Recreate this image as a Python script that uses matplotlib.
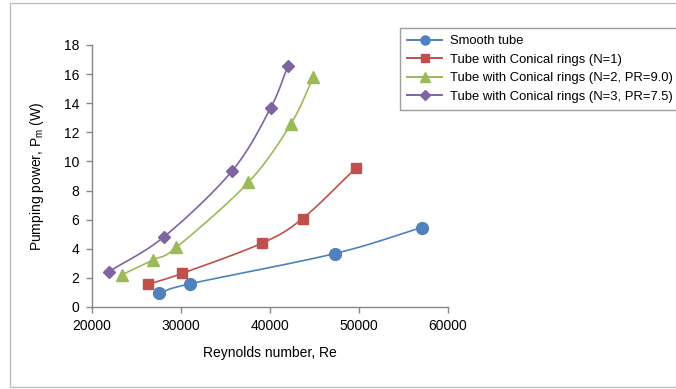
import matplotlib
matplotlib.use("Agg")
import matplotlib.pyplot as plt
import numpy as np
from matplotlib.patches import Rectangle

## the data
re_smooth = [27600, 31100, 47300, 57100]
pp_smooth = [0.95, 1.6, 3.67, 5.46]

re_n1 = [26350, 30200, 39100, 43700, 49700]
pp_n1 = [1.56, 2.32, 4.38, 6.08, 9.55]

re_n2 = [23350, 26900, 29500, 37600, 42400, 44900]
pp_n2 = [2.2, 3.24, 4.09, 8.56, 12.6, 15.8]

re_n3 = [21950, 28150, 35800, 40100, 42050]
pp_n3 = [2.43, 4.84, 9.37, 13.68, 16.55]

labels = ['Smooth tube',
          'Tube with Conical rings (N=1)',
          'Tube with Conical rings (N=2, PR=9.0)',
          'Tube with Conical rings (N=3, PR=7.5)']

x_ticks = [20000, 30000, 40000, 50000, 60000]
y_ticks = [0, 2, 4, 6, 8, 10, 12, 14, 16, 18]

## styles
colors = ['#4F81BD', '#C0504D', '#9BBB59', '#8064A2']
markers = ['o', 's', '^', 'D']
msizes = [8.5, 7.5, 8, 6.5]
leg_msizes = [6.5, 6, 6.5, 5]
grey = '#868686'

plt.rcParams['font.family'] = ['Liberation Sans', 'DejaVu Sans']


def smooth_curve(x, y, n=30):
    # Catmull-Rom style curve through the points, like Excel "smoothed line"
    x = np.asarray(x, float)
    y = np.asarray(y, float)
    px = np.concatenate([[2 * x[0] - x[1]], x, [2 * x[-1] - x[-2]]])
    py = np.concatenate([[2 * y[0] - y[1]], y, [2 * y[-1] - y[-2]]])
    xs, ys = [], []
    t = np.linspace(0, 1, n)
    for i in range(1, len(px) - 2):
        for p, out in ((px, xs), (py, ys)):
            p0, p1, p2, p3 = p[i - 1], p[i], p[i + 1], p[i + 2]
            seg = 0.5 * ((2 * p1) + (-p0 + p2) * t
                         + (2 * p0 - 5 * p1 + 4 * p2 - p3) * t ** 2
                         + (-p0 + 3 * p1 - 3 * p2 + p3) * t ** 3)
            out.extend(seg)
    return np.array(xs), np.array(ys)


fig = plt.figure(figsize=(6.76, 3.89), dpi=100)
ax = fig.add_axes([91.7 / 676, 1 - 307 / 389, (447.7 - 91.7) / 676, (307 - 45) / 389])

series = [(re_smooth, pp_smooth), (re_n1, pp_n1), (re_n2, pp_n2), (re_n3, pp_n3)]
for (xv, yv), c, m, ms, lms, lab in zip(series, colors, markers, msizes, leg_msizes, labels):
    sx, sy = smooth_curve(xv, yv)
    ax.plot(sx, sy, color=c, lw=1.2, zorder=2)
    ax.plot(xv, yv, linestyle='none', marker=m, ms=ms, color=c, zorder=3)
    ax.plot([], [], color=c, lw=1.4, marker=m, ms=lms, label=lab)

ax.set_xlim(20000, 60000)
ax.set_ylim(0, 18)
ax.set_xticks(x_ticks)
ax.set_yticks(y_ticks)
for s in ['top', 'right']:
    ax.spines[s].set_visible(False)
for s in ['left', 'bottom']:
    ax.spines[s].set_color(grey)
    ax.spines[s].set_linewidth(1.0)
ax.tick_params(colors=grey, labelcolor='black', labelsize=10, length=4, width=1.0, pad=5)

ax.set_xlabel('Reynolds number, Re', fontsize=10, labelpad=9)
ax.set_ylabel('Pumping power, P$_\\mathregular{m}$ (W)', fontsize=10, labelpad=13)

leg = fig.legend(loc='upper left', bbox_to_anchor=(400 / 676, 1 - 28 / 389),
                 fontsize=9.4, frameon=True, fancybox=False, handlelength=2.7,
                 borderpad=0.55, labelspacing=0.48, handletextpad=0.55, borderaxespad=0)
leg.get_frame().set_edgecolor(grey)
leg.get_frame().set_linewidth(1.0)

## outer chart frame
fig.patches.append(Rectangle((10 / 676, 2 / 389), 1.0, 384 / 389, transform=fig.transFigure,
                             fill=False, edgecolor='#bfbfbf', lw=1.0))

fig.savefig('out.png', dpi=100)
